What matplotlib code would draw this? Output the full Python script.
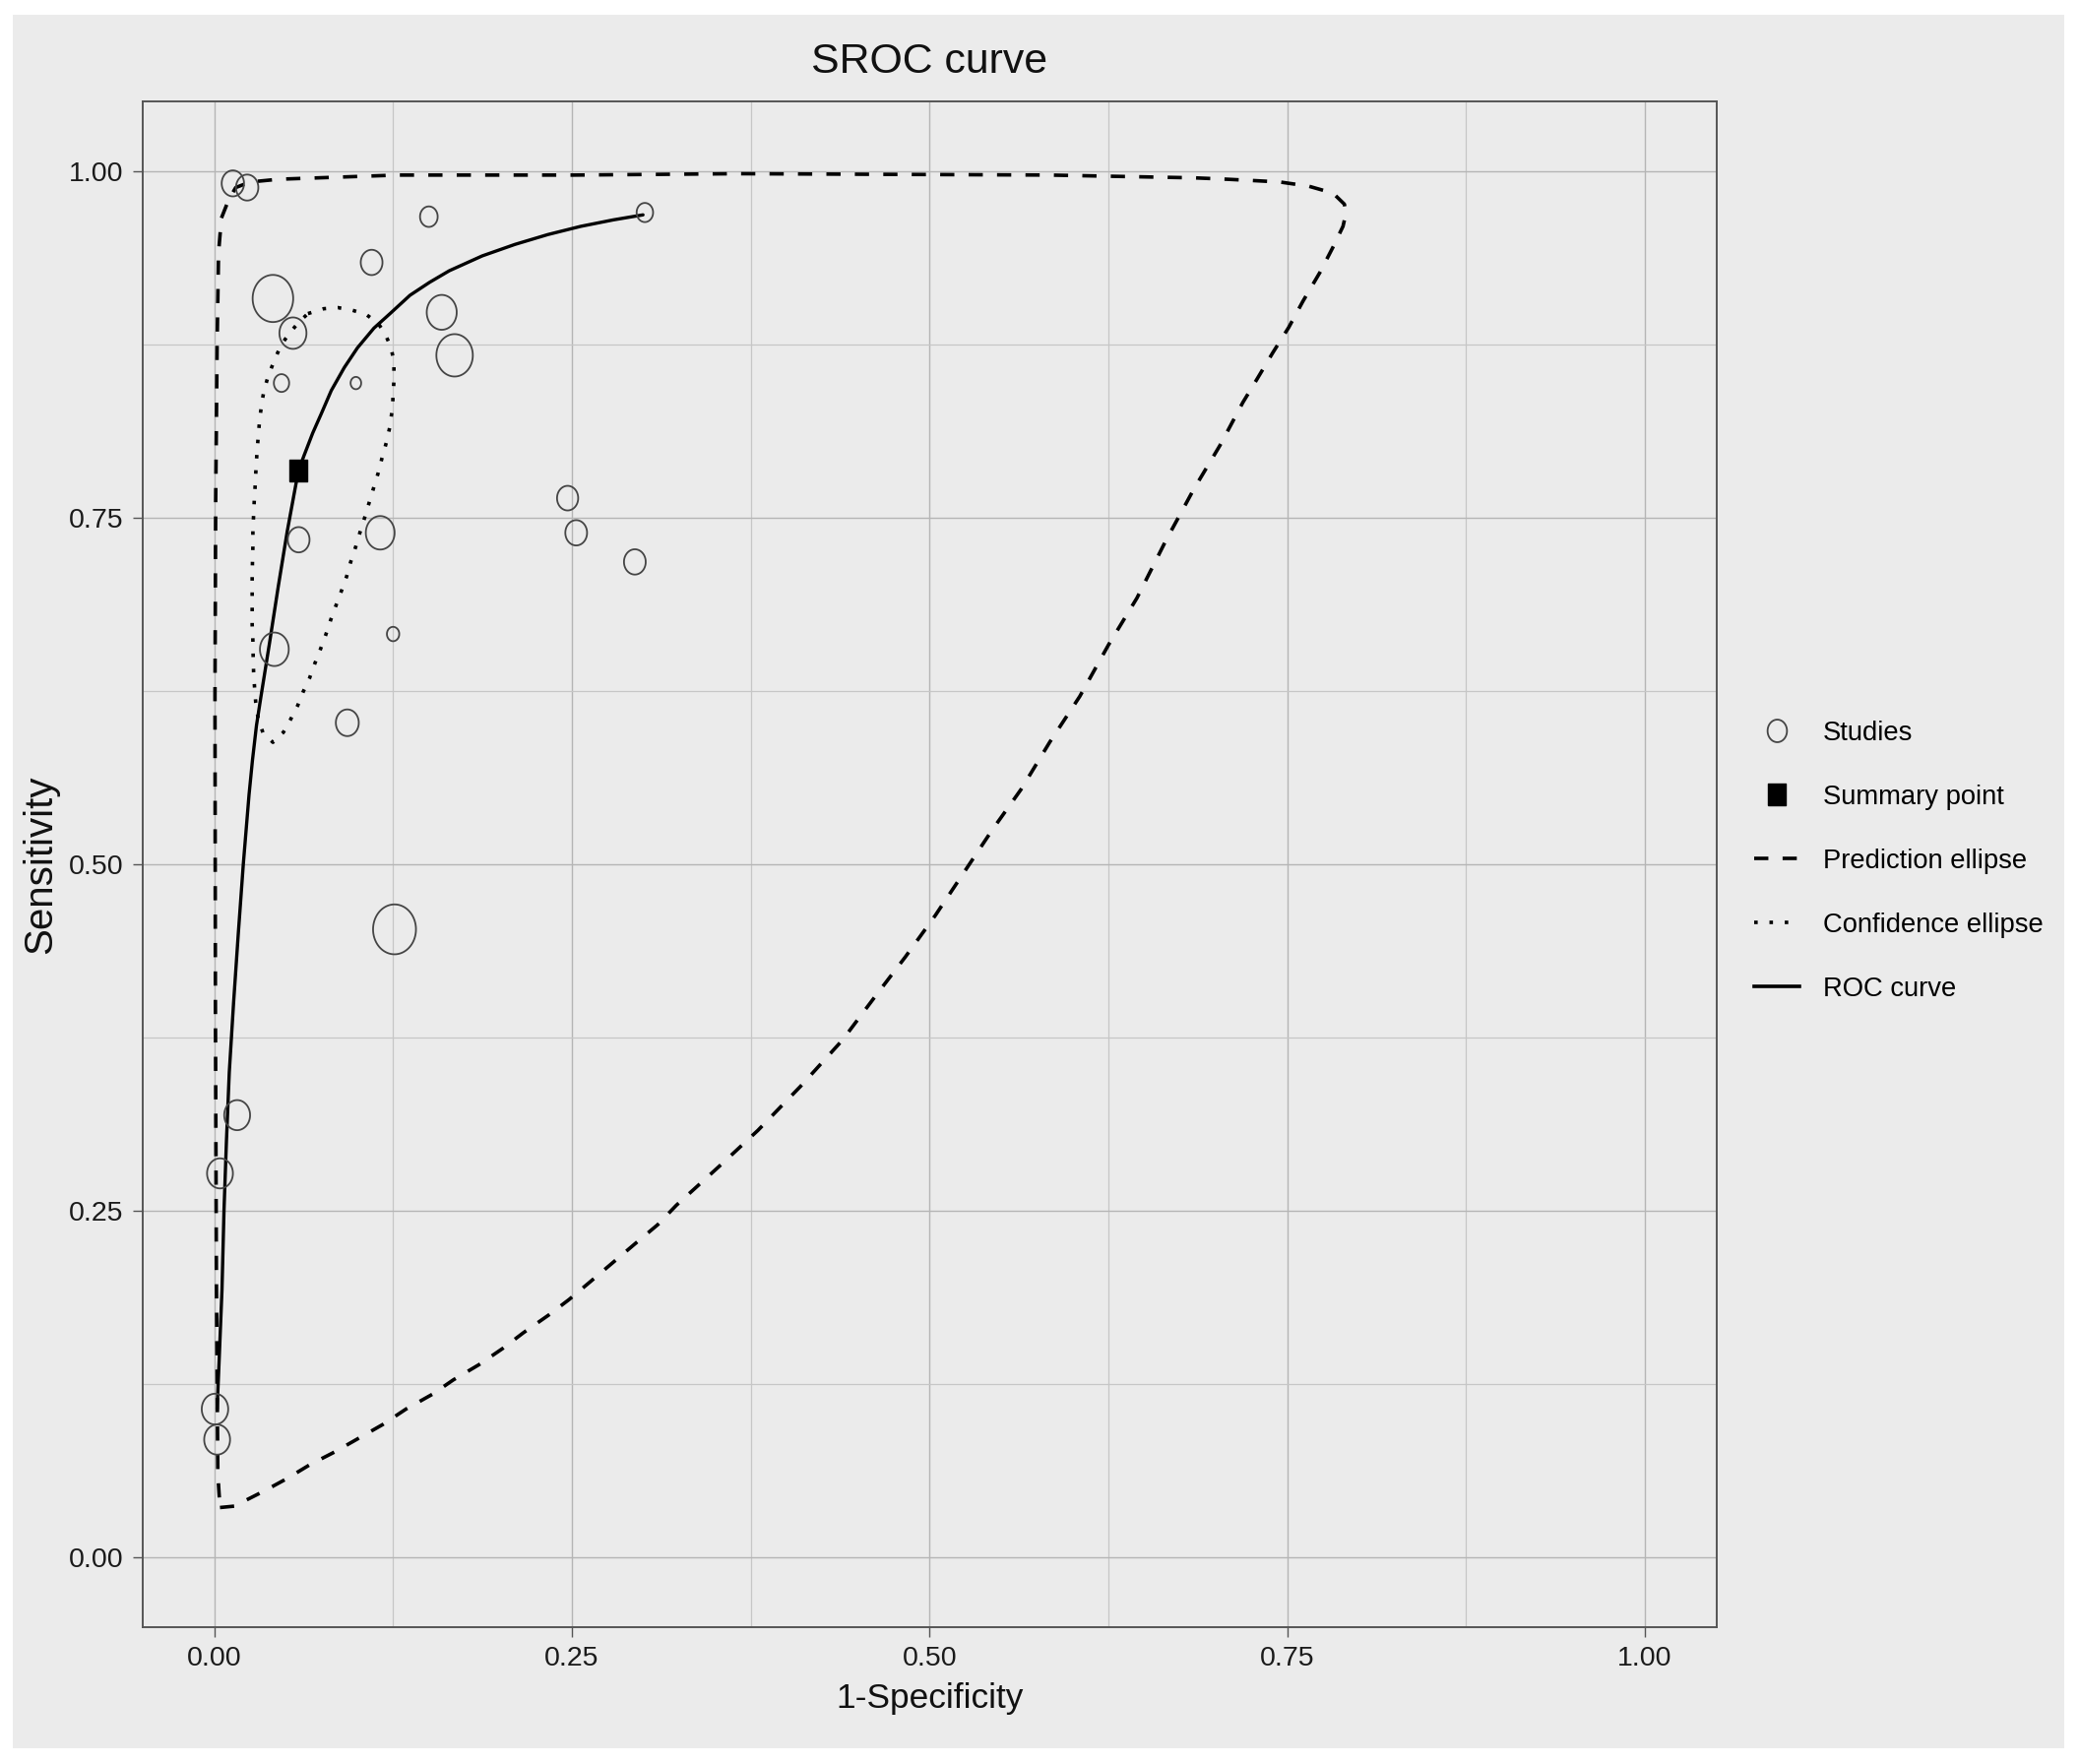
import numpy as np
import matplotlib.pyplot as plt
from matplotlib import font_manager
from matplotlib.lines import Line2D
from matplotlib.patches import Rectangle

# studies: 1-specificity, sensitivity and relative weight (circle size)
study_fpr = [0.013, 0.023, 0.301, 0.150, 0.110, 0.041, 0.159, 0.055, 0.168, 0.047, 0.099, 0.247,
             0.253, 0.116, 0.059, 0.294, 0.125, 0.042, 0.093, 0.126, 0.016, 0.004, 0.0005, 0.002]
study_sens = [0.991, 0.988, 0.970, 0.967, 0.934, 0.908, 0.898, 0.883, 0.867, 0.847, 0.847, 0.764,
              0.739, 0.739, 0.734, 0.718, 0.666, 0.655, 0.602, 0.453, 0.319, 0.277, 0.107, 0.085]
study_weight = [19, 19, 14, 15, 18.5, 34.5, 25.5, 23, 31, 13, 9, 18,
                18.5, 24.5, 18.5, 18.5, 10.5, 24.5, 19.5, 36.5, 22, 22, 22.5, 22]

summary_fpr = [0.0588]
summary_sens = [0.7837]

# SROC curve
roc_fpr = [0.0020, 0.0034, 0.0054, 0.0068, 0.0085, 0.0105, 0.0135, 0.0168, 0.0203, 0.0243,
           0.0267, 0.0295, 0.0325, 0.0387, 0.0447, 0.0510, 0.0588, 0.0626, 0.0688, 0.0749,
           0.0818, 0.0909, 0.1001, 0.1116, 0.1231, 0.1368, 0.1506, 0.1643, 0.1873, 0.2102,
           0.2332, 0.2561, 0.2790, 0.2997]
roc_sens = [0.107, 0.142, 0.193, 0.250, 0.300, 0.350, 0.400, 0.450, 0.500, 0.550,
            0.575, 0.600, 0.620, 0.660, 0.700, 0.740, 0.7837, 0.7943, 0.8109, 0.8251,
            0.8416, 0.8582, 0.8724, 0.8866, 0.8973, 0.9103, 0.9197, 0.9280, 0.9387, 0.9470,
            0.9541, 0.9600, 0.9647, 0.9683]

# confidence region
conf_fpr = [0.0655, 0.0765, 0.0864, 0.0962, 0.1060, 0.1146, 0.1195, 0.1237, 0.1256, 0.1256,
            0.1251, 0.1244, 0.1227, 0.1202, 0.1173, 0.1146, 0.1116, 0.1084, 0.1053, 0.1018,
            0.0989, 0.0954, 0.0925, 0.0888, 0.0851, 0.0815, 0.0780, 0.0741, 0.0702, 0.0665,
            0.0623, 0.0584, 0.0535, 0.0483, 0.0410, 0.0341, 0.0307, 0.0290, 0.0282, 0.0275,
            0.0272, 0.0270, 0.0265, 0.0265, 0.0265, 0.0265, 0.0267, 0.0270, 0.0270, 0.0275,
            0.0280, 0.0287, 0.0292, 0.0299, 0.0307, 0.0316, 0.0331, 0.0348, 0.0378, 0.0422,
            0.0466, 0.0525, 0.0594, 0.0655]
conf_sens = [0.8971, 0.9006, 0.9014, 0.8996, 0.8966, 0.8900, 0.8824, 0.8722, 0.8621, 0.8494,
             0.8392, 0.8278, 0.8152, 0.8038, 0.7931, 0.7822, 0.7721, 0.7612, 0.7505, 0.7391,
             0.7290, 0.7181, 0.7074, 0.6968, 0.6866, 0.6765, 0.6656, 0.6547, 0.6445, 0.6339,
             0.6247, 0.6146, 0.6047, 0.5951, 0.5879, 0.5946, 0.6050, 0.6164, 0.6270, 0.6384,
             0.6498, 0.6613, 0.6727, 0.6846, 0.6952, 0.7061, 0.7175, 0.7290, 0.7404, 0.7518,
             0.7632, 0.7746, 0.7860, 0.7974, 0.8081, 0.8190, 0.8321, 0.8418, 0.8524, 0.8638,
             0.8742, 0.8829, 0.8912, 0.8971]

# prediction region
pred_fpr = [0.004, 0.014, 0.035, 0.051, 0.067, 0.084, 0.101, 0.118, 0.134, 0.153,
            0.167, 0.185, 0.202, 0.216, 0.234, 0.248, 0.263, 0.279, 0.295, 0.310,
            0.323, 0.339, 0.355, 0.380, 0.410, 0.439, 0.463, 0.483, 0.504, 0.524,
            0.544, 0.564, 0.584, 0.605, 0.625, 0.645, 0.665, 0.685, 0.703, 0.719,
            0.729, 0.740, 0.751, 0.761, 0.773, 0.782, 0.789, 0.791, 0.790, 0.782,
            0.765, 0.745, 0.727, 0.708, 0.685, 0.584, 0.366, 0.251, 0.128, 0.045,
            0.025, 0.015, 0.010, 0.005, 0.003, 0.002, 0.001, 0.0005, 0.0008, 0.0015,
            0.0025, 0.004]
pred_sens = [0.036, 0.037, 0.048, 0.057, 0.067, 0.076, 0.086, 0.096, 0.107, 0.118,
             0.128, 0.139, 0.151, 0.162, 0.175, 0.186, 0.199, 0.213, 0.227, 0.240,
             0.254, 0.269, 0.284, 0.308, 0.340, 0.373, 0.406, 0.433, 0.463, 0.494,
             0.525, 0.554, 0.588, 0.621, 0.658, 0.692, 0.733, 0.771, 0.802, 0.833,
             0.850, 0.869, 0.887, 0.906, 0.927, 0.945, 0.960, 0.969, 0.976, 0.984,
             0.989, 0.992, 0.993, 0.994, 0.995, 0.997, 0.998, 0.997, 0.997, 0.994,
             0.992, 0.988, 0.979, 0.966, 0.941, 0.875, 0.763, 0.621, 0.400, 0.200,
             0.060, 0.036]

ticks = [0.0, 0.25, 0.5, 0.75, 1.0]
tick_labels = ['0.00', '0.25', '0.50', '0.75', '1.00']
minor_ticks = [0.125, 0.375, 0.625, 0.875]
legend_labels = ['Studies', 'Summary point', 'Prediction ellipse', 'Confidence ellipse', 'ROC curve']

# narrow font if there is one, else squeeze sizes down
names = {f.name for f in font_manager.fontManager.ttflist}
if 'Liberation Sans Narrow' in names:
    narrow, k = 'Liberation Sans Narrow', 1.0
else:
    narrow, k = 'Liberation Sans', 0.82
plt.rcParams['font.family'] = [narrow, 'DejaVu Sans']

W, H = 2112, 1792
bg = '#ebebeb'
dark = '#555555'

fig = plt.figure(figsize=(W / 100, H / 100), dpi=100, facecolor='white')
fig.patches.append(Rectangle((13 / W, 1 - 1776 / H), (2097 - 13) / W, (1776 - 15) / H,
                             transform=fig.transFigure, facecolor=bg, edgecolor='none', zorder=-10))
ax = fig.add_axes([145 / W, 1 - 1652.6 / H, (1743.6 - 145) / W, (1652.6 - 103.2) / H])
ax.set_facecolor(bg)

# slightly narrow ring and box markers, like the reference
t = np.linspace(0, 2 * np.pi, 73)
ring = np.column_stack([0.86 * np.cos(t), np.sin(t)])
box = [(-0.87, -1), (0.87, -1), (0.87, 1), (-0.87, 1), (-0.87, -1)]

pred_ls = (0, (4, 4))
conf_ls = (0, (1, 3.3))

ax.plot(pred_fpr, pred_sens, color='black', lw=2.6, ls=pred_ls, zorder=3)
ax.plot(conf_fpr, conf_sens, color='black', lw=2.6, ls=conf_ls, zorder=3)
ax.plot(roc_fpr, roc_sens, color='black', lw=2.4, solid_capstyle='round',
        solid_joinstyle='round', zorder=4)
ax.scatter(study_fpr, study_sens, s=np.array(study_weight) ** 2, marker=ring,
           facecolors='none', edgecolors='#454545', linewidths=1.3, zorder=5)
ax.plot(summary_fpr, summary_sens, ls='none', marker=box, ms=15.4, color='black', zorder=6)

ax.set_xlim(-0.05, 1.05)
ax.set_ylim(-0.05, 1.05)
ax.set_xticks(ticks)
ax.set_xticklabels(tick_labels)
ax.set_yticks(ticks)
ax.set_yticklabels(tick_labels)
ax.set_xticks(minor_ticks, minor=True)
ax.set_yticks(minor_ticks, minor=True)
ax.set_axisbelow(True)
ax.grid(which='major', color='#b5b5b5', lw=1.0)
ax.grid(which='minor', color='#c6c6c6', lw=0.9)
ax.tick_params(which='major', direction='out', length=7, width=1.0, color=dark,
               labelsize=25 * k, labelcolor='#1a1a1a', pad=7)
ax.tick_params(which='minor', length=0)
for sp in ax.spines.values():
    sp.set_color(dark)
    sp.set_linewidth(1.4)

ax.set_title('SROC curve', fontsize=37.5 * k, pad=21, color='#111111')
ax.set_xlabel('1-Specificity', fontsize=31 * k, labelpad=8, color='#111111')
ax.set_ylabel('Sensitivity', fontsize=29, family=['Liberation Sans', 'DejaVu Sans'],
              labelpad=7, color='#111111')

handles = [
    Line2D([], [], ls='none', marker=ring, ms=16.5, mfc='none', mec='#454545', mew=1.3),
    Line2D([], [], ls='none', marker=box, ms=15.4, color='black'),
    Line2D([], [], color='black', lw=2.6, ls=pred_ls),
    Line2D([], [], color='black', lw=2.6, ls=conf_ls),
    Line2D([], [], color='black', lw=2.6),
]
fs = 24 * k
fs_px = fs * 100 / 72
ax.legend(handles, legend_labels, loc='center left', bbox_to_anchor=(1.0239, 0.502),
          frameon=False, fontsize=fs, borderpad=0, borderaxespad=0,
          handlelength=46.6 / fs_px, handletextpad=23.4 / fs_px,
          labelspacing=(64.8 - 0.94 * fs_px) / fs_px)

fig.savefig('out.png', dpi=100, facecolor='white')
